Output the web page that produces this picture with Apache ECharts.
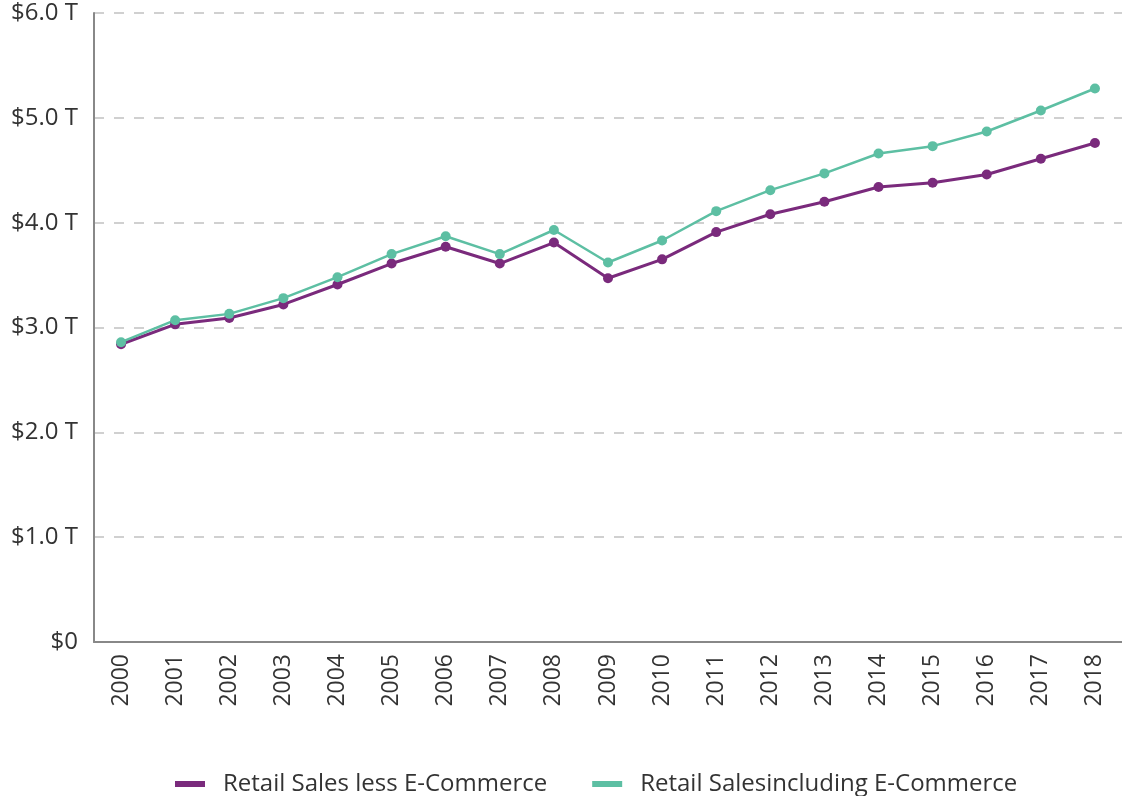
<!DOCTYPE html>
<html>
<head>
<meta charset="utf-8">
<script src="https://cdn.jsdelivr.net/npm/echarts@6/dist/echarts.min.js"></script>
<style>
html,body{margin:0;padding:0;background:#fff;}
#chart{width:1122px;height:796px;}
</style>
</head>
<body>
<div id="chart"></div>
<script>
var years = ['2000','2001','2002','2003','2004','2005','2006','2007','2008','2009','2010','2011','2012','2013','2014','2015','2016','2017','2018'];
var retailLessEcom = [2.84,3.03,3.09,3.22,3.41,3.61,3.77,3.61,3.81,3.47,3.65,3.91,4.08,4.20,4.34,4.38,4.46,4.61,4.76];
var retailInclEcom = [2.86,3.07,3.13,3.28,3.48,3.70,3.87,3.70,3.93,3.62,3.83,4.11,4.31,4.47,4.66,4.73,4.87,5.07,5.28];
var seriesNames = ['Retail Sales less E-Commerce','Retail Salesincluding E-Commerce'];
var colors = ['#7a2a7c','#5dbfa3'];
var FONT = '"Open Sans", sans-serif';

var chart = echarts.init(document.getElementById('chart'));
chart.setOption({
  animation:false,
  color: colors,
  grid:{left:94,right:-6,top:13,bottom:154,containLabel:false},
  legend:{
    left:170, top:767,
    itemWidth:30, itemHeight:6, itemGap:45,
    icon:'rect',
    textStyle:{fontFamily:FONT,fontSize:24,color:'#333',padding:[0,0,0,13]},
    data:seriesNames
  },
  xAxis:{
    type:'category',
    data:years,
    boundaryGap:true,
    axisLine:{lineStyle:{color:'#888',width:2}},
    axisTick:{show:false},
    axisLabel:{rotate:90,margin:12,fontFamily:FONT,fontSize:23,color:'#333',interval:0}
  },
  yAxis:{
    type:'value',
    min:0,max:6,interval:1,
    axisLine:{show:true,lineStyle:{color:'#888',width:2}},
    axisTick:{show:false},
    axisLabel:{margin:16,fontFamily:FONT,fontSize:24,color:'#333',
      formatter:function(v){return v===0?'$0':'$'+v.toFixed(1)+' T';}},
    splitLine:{lineStyle:{color:'#d0d0d0',width:2,type:[10,10]}}
  },
  series:[
    {name:seriesNames[0],type:'line',data:retailLessEcom,symbol:'circle',symbolSize:10,
     lineStyle:{width:3,color:colors[0]},itemStyle:{color:colors[0]}},
    {name:seriesNames[1],type:'line',data:retailInclEcom,symbol:'circle',symbolSize:10,
     lineStyle:{width:2.5,color:colors[1]},itemStyle:{color:colors[1]}}
  ]
});
</script>
</body>
</html>
